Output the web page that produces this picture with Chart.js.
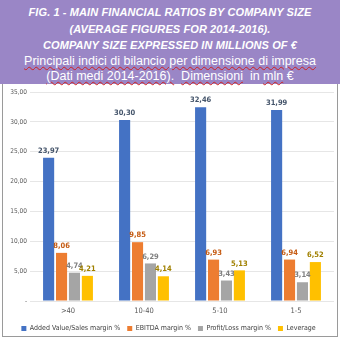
<!DOCTYPE html>
<html><head><meta charset="utf-8">
<script src="https://cdn.jsdelivr.net/npm/chart.js@4"></script>
<style>
html,body{margin:0;padding:0;background:#fff;}
#wrap{position:relative;width:340px;height:338px;overflow:hidden;font-family:"Liberation Sans",Arial,sans-serif;}
#head{position:absolute;left:0;top:0;width:340px;height:84px;background:#9a86c6;color:#fff;text-align:center;}
.b{font-weight:bold;font-style:italic;font-size:11px;line-height:16.5px;letter-spacing:0.1px;}
.r{font-size:12.5px;line-height:15.5px;}
.r span{text-decoration:underline wavy #d02020;text-decoration-thickness:1px;text-underline-offset:1px;}
#panel{position:absolute;left:2px;top:84px;width:334px;height:252px;border:1px solid #9a9a9a;border-top:none;overflow:hidden;}
#cv{position:absolute;left:0;top:0;}
</style></head><body>
<div id="wrap">
<div id="head">
<div class="b" style="padding-top:4px">FIG. 1 - MAIN FINANCIAL RATIOS BY COMPANY SIZE</div>
<div class="b">(AVERAGE FIGURES FOR 2014-2016).</div>
<div class="b">COMPANY SIZE EXPRESSED IN MILLIONS OF €</div>
<div class="r"><span>Principali indici di bilancio per dimensione di impresa</span></div>
<div class="r"><span>(Dati medi 2014-2016).</span>&nbsp; <span>Dimensioni</span>&nbsp; in <span>mln</span> €</div>
</div>
<div id="panel"><canvas id="cv" width="334" height="258"></canvas></div>
</div>
<script>
const categories = [">40", "10-40", "5-10", "1-5"];
const seriesNames = ["Added Value/Sales margin %", "EBITDA margin %", "Profit/Loss margin %", "Leverage"];
const addedValue = [23.97, 30.30, 32.46, 31.99];
const ebitda = [8.06, 9.85, 6.93, 6.94];
const profitLoss = [4.74, 6.29, 3.43, 3.14];
const leverage = [4.21, 4.14, 5.13, 6.52];
const yTicks = [0, 5, 10, 15, 20, 25, 30, 35];

const barColors = ["#4472c4", "#ed7d31", "#a5a5a5", "#ffc000"];
const labelColors = ["#44546a", "#c55a11", "#7f7f7f", "#a08000"];
const FONT = "'DejaVu Sans Condensed', 'Liberation Sans', Arial, sans-serif";

const fmt = v => v === 0 ? "-" : v.toFixed(2).replace(".", ",");

const valueLabels = {
  id: "valueLabels",
  afterDatasetsDraw(chart) {
    const ctx = chart.ctx;
    ctx.save();
    ctx.font = "bold 7.5px " + FONT;
    ctx.textAlign = "center";
    ctx.textBaseline = "bottom";
    chart.data.datasets.forEach((ds, i) => {
      const meta = chart.getDatasetMeta(i);
      ctx.fillStyle = labelColors[i];
      meta.data.forEach((el, j) => {
        ctx.fillText(fmt(ds.data[j]), el.x, el.y - 3);
      });
    });
    ctx.restore();
  }
};

const data = [addedValue, ebitda, profitLoss, leverage];
new Chart(document.getElementById("cv"), {
  type: "bar",
  data: {
    labels: categories,
    datasets: seriesNames.map((n, i) => ({
      label: n, data: data[i], backgroundColor: barColors[i],
      categoryPercentage: 0.68, barPercentage: 0.86
    }))
  },
  options: {
    responsive: false, animation: false, devicePixelRatio: 1,
    layout: { padding: { top: 8, right: 3, left: 0, bottom: 0 } },
    plugins: {
      legend: {
        position: "bottom",
        labels: { boxWidth: 5, boxHeight: 5, padding: 7, color: "#404040",
          font: { size: 7, family: FONT } }
      },
      tooltip: { enabled: false }
    },
    scales: {
      x: {
        grid: { display: false, drawTicks: false }, border: { display: false },
        ticks: { color: "#595959", font: { size: 7.5, family: FONT }, padding: 6 },
        afterFit: s => { s.height = 17; }
      },
      y: {
        min: 0, max: 35,
        afterBuildTicks: s => { s.ticks = yTicks.map(v => ({ value: v })); },
        grid: { color: "#e6e6e6", drawTicks: false }, border: { display: false },
        ticks: { color: "#595959", font: { size: 6.5, family: FONT }, padding: 3,
          callback: v => fmt(v) },
        afterFit: s => { s.width = 27; }
      }
    }
  },
  plugins: [valueLabels]
});
</script>
</body></html>
